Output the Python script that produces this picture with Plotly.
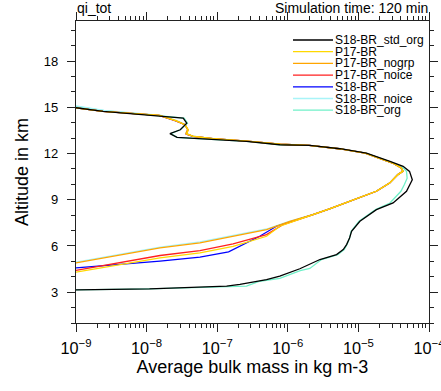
import plotly.graph_objects as go

# ---------------- data (altitude in km, average bulk mass in kg m-3) ----------------
names = ["S18-BR_std_org", "P17-BR", "P17-BR_nogrp", "P17-BR_noice",
         "S18-BR", "S18-BR_noice", "S18-BR_org"]
colors = ["#000000", "#FFD800", "#FFA500", "#FF2020",
          "#0000FF", "#A8F4F8", "#70F0C8"]

alt_s18_std_org = [15.02, 14.97, 14.73, 14.56, 14.41, 14.30, 13.97, 13.54, 13.29, 13.05,
                   13.00, 12.94, 12.79, 12.57, 12.53, 12.31, 12.03, 11.49, 11.17, 10.84,
                   10.30, 9.55, 8.79, 8.36, 7.60, 6.95, 6.52, 6.09, 5.77, 5.44,
                   5.12, 4.52, 4.04, 3.82, 3.50, 3.39, 3.21, 3.15, 3.14]
qi_s18_std_org = [6e-10, 1.0e-9, 2.43e-9, 7.2e-9, 2.14e-8, 3.3e-8, 3.7e-8, 3.0e-8, 2.14e-8, 2.7e-8,
                  4.1e-8, 7.5e-8, 2.6e-7, 7.7e-7, 2.05e-6, 5.5e-6, 1.30e-5, 2.8e-5, 4.3e-5, 5.3e-5,
                  5.8e-5, 4.8e-5, 3.1e-5, 1.8e-5, 1.05e-5, 8.0e-6, 7.5e-6, 6.8e-6, 6.1e-6, 4.9e-6,
                  2.85e-6, 1.48e-6, 7.7e-7, 5.0e-7, 2.1e-7, 1.36e-7, 1.1e-8, 1.0e-9, 5e-10]

alt_p17 = [15.00, 14.96, 14.73, 14.56, 14.47, 14.11, 13.87, 13.54, 13.26, 13.11,
           12.96, 12.80, 12.60, 12.53, 12.31, 12.03, 11.38, 11.06, 10.84, 10.63,
           10.08, 9.55, 8.79, 8.40, 8.04, 7.28, 6.63, 5.98, 5.55, 5.22,
           4.30, 4.25]
qi_p17 = [6e-10, 1.0e-9, 2.4e-9, 7.2e-9, 1.55e-8, 2.66e-8, 3.5e-8, 3.9e-8, 3.7e-8, 4.6e-8,
          8.8e-8, 2.7e-7, 7.9e-7, 2.0e-6, 5.3e-6, 1.25e-5, 3.07e-5, 4.07e-5, 4.3e-5, 3.65e-5,
          2.78e-5, 1.8e-5, 6.8e-6, 3.9e-6, 2.29e-6, 7.7e-7, 5.0e-7, 1.68e-7, 5.7e-8, 1.55e-8,
          1.0e-9, 6e-10]

alt_p17_nogrp = [15.00, 14.96, 14.73, 14.56, 14.47, 14.13, 13.89, 13.56, 13.30, 13.13,
                 12.97, 12.80, 12.60, 12.53, 12.31, 12.03, 11.38, 11.06, 10.86, 10.63,
                 10.08, 9.55, 8.79, 8.40, 8.04, 7.60, 7.06, 6.63, 6.20, 5.87,
                 4.90, 4.85]
qi_p17_nogrp = [6e-10, 1.0e-9, 2.4e-9, 7.0e-9, 1.5e-8, 2.6e-8, 3.45e-8, 3.8e-8, 3.6e-8, 4.5e-8,
                8.6e-8, 2.6e-7, 7.8e-7, 2.0e-6, 5.3e-6, 1.24e-5, 3.05e-5, 4.0e-5, 4.25e-5, 3.6e-5,
                2.75e-5, 1.78e-5, 6.8e-6, 3.9e-6, 2.25e-6, 1.07e-6, 5.0e-7, 1.68e-7, 5.7e-8, 1.55e-8,
                1.0e-9, 6e-10]

alt_p17_noice = [15.00, 14.96, 14.73, 14.56, 14.47, 14.11, 13.87, 13.54, 13.26, 13.11,
                 12.96, 12.80, 12.60, 12.53, 12.31, 12.03, 11.38, 11.06, 10.84, 10.63,
                 10.08, 9.55, 8.79, 8.40, 8.04, 7.39, 6.74, 6.13, 5.70, 5.38,
                 4.41, 4.36]
qi_p17_noice = [6e-10, 1.0e-9, 2.4e-9, 7.1e-9, 1.5e-8, 2.6e-8, 3.5e-8, 3.85e-8, 3.65e-8, 4.55e-8,
                8.7e-8, 2.65e-7, 7.8e-7, 2.0e-6, 5.3e-6, 1.25e-5, 3.06e-5, 4.05e-5, 4.28e-5, 3.63e-5,
                2.77e-5, 1.8e-5, 6.8e-6, 3.9e-6, 2.28e-6, 8.6e-7, 5.0e-7, 1.68e-7, 5.7e-8, 1.55e-8,
                1.0e-9, 6e-10]

alt_s18 = [15.00, 14.96, 14.73, 14.56, 14.47, 14.11, 13.87, 13.54, 13.26, 13.11,
           12.96, 12.80, 12.60, 12.53, 12.31, 12.03, 11.38, 11.06, 10.84, 10.63,
           10.08, 9.55, 8.79, 8.40, 8.04, 7.28, 6.63, 6.09, 5.62, 5.27,
           5.01, 4.58, 4.53]
qi_s18 = [6e-10, 1.0e-9, 2.4e-9, 7.1e-9, 1.5e-8, 2.6e-8, 3.5e-8, 3.85e-8, 3.65e-8, 4.55e-8,
          8.7e-8, 2.65e-7, 7.8e-7, 2.0e-6, 5.3e-6, 1.25e-5, 3.06e-5, 4.05e-5, 4.28e-5, 3.63e-5,
          2.77e-5, 1.8e-5, 6.8e-6, 3.9e-6, 2.28e-6, 6.9e-7, 4.0e-7, 2.33e-7, 1.45e-7, 5.7e-8,
          1.55e-8, 1.0e-9, 6e-10]

alt_s18_noice = [15.14, 15.09, 14.80, 14.60, 14.47, 14.13, 13.89, 13.56, 13.30, 13.13,
                 12.97, 12.80, 12.60, 12.53, 12.31, 12.03, 11.38, 11.06, 10.86, 10.63,
                 10.08, 9.55, 8.79, 8.40, 8.04, 7.62, 7.10, 6.68, 6.26, 5.92,
                 4.95, 4.90]
qi_s18_noice = [6e-10, 1.0e-9, 2.5e-9, 7.4e-9, 1.6e-8, 2.7e-8, 3.5e-8, 3.8e-8, 3.6e-8, 4.5e-8,
                8.6e-8, 2.6e-7, 7.8e-7, 2.0e-6, 5.3e-6, 1.24e-5, 3.05e-5, 4.0e-5, 4.25e-5, 3.6e-5,
                2.75e-5, 1.78e-5, 6.8e-6, 3.9e-6, 2.25e-6, 1.07e-6, 5.0e-7, 1.68e-7, 5.7e-8, 1.55e-8,
                1.0e-9, 6e-10]

alt_s18_org = [15.10, 15.05, 14.78, 14.58, 14.41, 14.30, 13.97, 13.54, 13.29, 13.05,
               13.00, 12.94, 12.79, 12.57, 12.53, 12.31, 12.03, 11.49, 11.17, 10.84,
               10.40, 10.00, 9.55, 8.79, 8.36, 7.60, 6.95, 6.52, 6.09, 5.77,
               5.44, 5.12, 4.54, 4.40, 3.89, 3.71, 3.39, 3.21, 3.15, 3.14]
qi_s18_org = [6e-10, 1.0e-9, 2.5e-9, 7.3e-9, 2.1e-8, 3.4e-8, 3.8e-8, 3.0e-8, 2.2e-8, 2.7e-8,
              4.0e-8, 7.3e-8, 2.6e-7, 7.6e-7, 2.0e-6, 5.4e-6, 1.28e-5, 2.7e-5, 4.1e-5, 4.8e-5,
              4.9e-5, 4.5e-5, 4.0e-5, 2.8e-5, 1.75e-5, 1.02e-5, 7.9e-6, 7.5e-6, 6.9e-6, 6.3e-6,
              5.1e-6, 3.0e-6, 2.05e-6, 1.5e-6, 7.7e-7, 4.0e-7, 2.6e-7, 1.1e-8, 1.0e-9, 5e-10]

altitudes = [alt_s18_std_org, alt_p17, alt_p17_nogrp, alt_p17_noice,
             alt_s18, alt_s18_noice, alt_s18_org]
values = [qi_s18_std_org, qi_p17, qi_p17_nogrp, qi_p17_noice,
          qi_s18, qi_s18_noice, qi_s18_org]

x_range_log = [-9, -4]
y_range = [1, 20.6]
variable_label = "qi_tot"
time_label = "Simulation time: 120 min"
x_title = "Average bulk mass in kg m-3"
y_title = "Altitude in km"

# ---------------- figure ----------------
FONT = "Liberation Sans, Arial, Helvetica, sans-serif"
W, H = 441, 391
ML, MR, MT, MB = 76, 12, 21, 68
PW, PH = W - ML - MR, H - MT - MB

fig = go.Figure()
draw_order = [6, 5, 4, 3, 2, 1, 0]
for i in draw_order:
    fig.add_trace(go.Scatter(
        x=values[i], y=altitudes[i], mode="lines", name=names[i],
        line=dict(color=colors[i], width=1.3), showlegend=False,
        cliponaxis=True))

axis_common = dict(
    showline=True, linecolor="#222222", linewidth=1.2, mirror="allticks",
    ticks="outside", ticklen=8, tickwidth=1, tickcolor="#222222",
    showgrid=False, zeroline=False, automargin=False, ticklabeloverflow="allow",
)

fig.update_xaxes(
    type="log", range=x_range_log, dtick=1, exponentformat="power",
    tickfont=dict(family=FONT, size=13, color="black"),
    ticklabelstandoff=3,
    minor=dict(ticks="outside", ticklen=4, tickcolor="#222222", dtick="D1", showgrid=False),
    title=dict(text=x_title, font=dict(family=FONT, size=18, color="black"), standoff=4),
    **axis_common)
fig.update_yaxes(
    range=y_range, tick0=0, dtick=3,
    tickfont=dict(family=FONT, size=13, color="black"),
    ticklabelstandoff=6,
    minor=dict(ticks="outside", ticklen=4, tickcolor="#222222", dtick=1, showgrid=False),
    title=dict(text=y_title, font=dict(family=FONT, size=18, color="black"), standoff=10),
    **axis_common)

# custom compact legend (NCL style)
shapes = []
annotations = []
leg_x0_px, leg_x1_px, leg_top_px, leg_step_px = 293, 333, 40.0, 11.7
for k, (nm, col) in enumerate(zip(names, colors)):
    py = leg_top_px + k * leg_step_px
    yp = (H - MB - py) / PH
    shapes.append(dict(type="line", xref="paper", yref="paper",
                       x0=(leg_x0_px - ML) / PW, x1=(leg_x1_px - ML) / PW,
                       y0=yp, y1=yp, line=dict(color=col, width=1.3)))
    annotations.append(dict(xref="paper", yref="paper", x=(leg_x1_px + 0.5 - ML) / PW, y=yp,
                            xanchor="left", yanchor="middle", showarrow=False, text=nm,
                            borderpad=0,
                            font=dict(family=FONT, size=12, color="black")))

annotations.append(dict(xref="paper", yref="paper", x=0, y=(H - MB - 8) / PH,
                        xanchor="left", yanchor="middle", showarrow=False, text=variable_label,
                        borderpad=0,
                        font=dict(family=FONT, size=14, color="black")))
annotations.append(dict(xref="paper", yref="paper", x=1, y=(H - MB - 8) / PH,
                        xanchor="right", yanchor="middle", showarrow=False, text=time_label,
                        borderpad=0,
                        font=dict(family=FONT, size=14, color="black")))

fig.update_layout(
    width=W, height=H, margin=dict(l=ML, r=MR, t=MT, b=MB, pad=0, autoexpand=False),
    paper_bgcolor="white", plot_bgcolor="white",
    font=dict(family=FONT, color="black"),
    shapes=shapes, annotations=annotations, showlegend=False,
)

fig.write_html("out.html")
